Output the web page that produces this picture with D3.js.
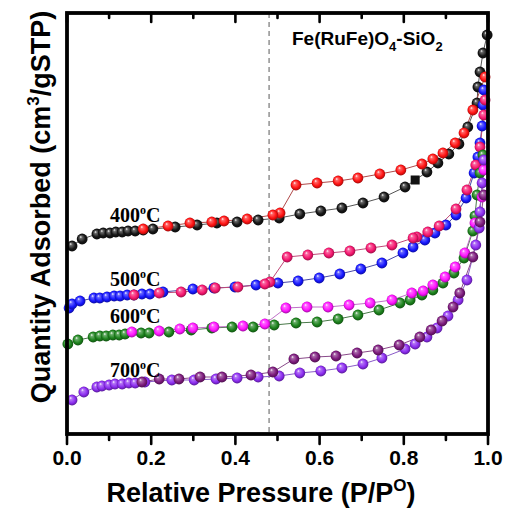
<!DOCTYPE html>
<html><head><meta charset="utf-8">
<script src="https://cdnjs.cloudflare.com/ajax/libs/d3/7.8.5/d3.min.js"></script>
<style>html,body{margin:0;padding:0;background:#fff;}svg{display:block;}</style>
</head><body>
<svg id="chart" width="506" height="508"></svg>
<script>
// ---- data (x = P/P0, y = quantity adsorbed, arbitrary units) ----
const xTicks = [0,0.1,0.2,0.3,0.4,0.5,0.6,0.7,0.8,0.9,1.0];
const xTickLabels = ["0.0","0.2","0.4","0.6","0.8","1.0"];
const dashedP = 0.48;

const ads400 = [[0.012,188],[0.036,195],[0.071,200],[0.086,201],[0.102,201],[0.116,202],[0.131,202],[0.145,203],[0.162,203],[0.181,204],[0.204,205],[0.257,207],[0.309,209],[0.356,211],[0.404,212],[0.454,214],[0.504,216],[0.553,220],[0.603,223],[0.653,226],[0.703,231],[0.753,237],[0.803,247],[0.827,254],[0.855,262],[0.881,271],[0.907,280],[0.931,290],[0.952,307],[0.974,331],[0.976,347],[0.981,362],[0.988,381],[0.998,399]];
const des400 = [[0.993,357],[0.964,324],[0.943,301],[0.922,291],[0.893,281],[0.869,275],[0.843,270],[0.793,264],[0.743,260],[0.691,256],[0.644,253],[0.594,251],[0.544,249],[0.506,221],[0.489,219],[0.428,215],[0.373,213],[0.344,212],[0.292,211],[0.240,208],[0.181,205]];
const ads500 = [[0.005,126],[0.012,130],[0.031,133],[0.064,136],[0.078,136],[0.095,137],[0.112,138],[0.126,138],[0.143,139],[0.159,139],[0.178,140],[0.197,140],[0.228,142],[0.299,145],[0.349,146],[0.399,147],[0.449,149],[0.501,151],[0.549,153],[0.599,156],[0.648,160],[0.698,165],[0.748,171],[0.798,181],[0.822,187],[0.850,194],[0.874,201],[0.900,209],[0.924,219],[0.948,236],[0.967,261],[0.976,277],[0.981,291],[0.986,308],[0.988,329],[0.990,344]];
const des500 = [[0.993,334],[0.990,319],[0.981,287],[0.971,269],[0.950,244],[0.924,225],[0.884,208],[0.857,202],[0.831,197],[0.822,196],[0.772,189],[0.722,186],[0.672,183],[0.622,181],[0.572,179],[0.523,177],[0.482,152],[0.470,150],[0.406,147],[0.352,146],[0.321,144],[0.271,142],[0.219,141],[0.159,139]];
const ads600 = [[0.002,90],[0.026,94],[0.062,97],[0.078,98],[0.093,98],[0.109,99],[0.124,99],[0.138,100],[0.176,101],[0.195,101],[0.242,102],[0.295,104],[0.344,106],[0.392,107],[0.442,107],[0.492,109],[0.544,111],[0.594,112],[0.644,115],[0.691,119],[0.741,124],[0.791,131],[0.815,134],[0.843,139],[0.869,144],[0.893,151],[0.919,161],[0.943,176],[0.964,203],[0.969,218],[0.974,239],[0.981,261],[0.988,279]];
const des600 = [[0.990,264],[0.986,237],[0.969,211],[0.945,181],[0.922,167],[0.898,157],[0.869,149],[0.846,143],[0.819,141],[0.772,134],[0.720,131],[0.670,129],[0.620,127],[0.570,127],[0.520,126],[0.470,110],[0.418,108],[0.349,107],[0.299,106],[0.268,105],[0.219,103],[0.154,102]];
const ads700 = [[0.012,34],[0.040,42],[0.071,47],[0.083,48],[0.100,49],[0.114,50],[0.131,50],[0.147,51],[0.162,51],[0.185,52],[0.249,54],[0.302,54],[0.354,55],[0.404,56],[0.454,57],[0.504,58],[0.553,61],[0.603,63],[0.653,66],[0.703,70],[0.748,76],[0.803,85],[0.827,90],[0.855,97],[0.879,106],[0.905,118],[0.929,134],[0.950,154],[0.971,189],[0.979,206],[0.981,222],[0.986,251],[0.990,274]];
const des700 = [[0.990,239],[0.981,212],[0.964,177],[0.933,141],[0.917,127],[0.891,113],[0.865,104],[0.838,97],[0.789,89],[0.739,84],[0.689,81],[0.639,78],[0.589,77],[0.539,75],[0.489,62],[0.437,59],[0.368,57],[0.316,57],[0.266,55],[0.219,55],[0.178,52]];

const seriesNames = ["ads400","des400","ads500","des500","ads600","des600","ads700","des700"];
const seriesData = [ads400,des400,ads500,des500,ads600,des600,ads700,des700];
const tempLabels = ["400","500","600","700"];
const tempLabelY = [212,148,111,57]; // label baseline in data units (y)

// ---- styles ----
const ballColors = ["#151515","#ff1212","#1616ff","#f5166f","#1c821c","#ff14ff","#8c2cf0","#7c1a7c"];
const lineColors = ["#555555","#b04848","#4848a8","#c04878","#4a7a4a","#c070c8","#8a5ac8","#8a4a8a"];

const svg = d3.select("#chart");
const x = d3.scaleLinear().domain([0,1]).range([67,488]);
const y = d3.scaleLinear().domain([0,421]).range([434,13]);

// gradients
const defs = svg.append("defs");
function shade(c, k){ return k>0 ? d3.interpolateRgb(c,"#ffffff")(k) : d3.interpolateRgb(c,"#000000")(-k); }
ballColors.forEach((c,i)=>{
  const g = defs.append("radialGradient").attr("id","g"+i)
    .attr("cx","50%").attr("cy","50%").attr("r","55%").attr("fx","35%").attr("fy","30%");
  g.append("stop").attr("offset","0%").attr("stop-color","#ffffff");
  g.append("stop").attr("offset","22%").attr("stop-color",shade(c,0.35));
  g.append("stop").attr("offset","65%").attr("stop-color",c);
  g.append("stop").attr("offset","100%").attr("stop-color",shade(c,-0.45));
});

// dashed line
svg.append("line").attr("x1",x(dashedP)).attr("x2",x(dashedP)).attr("y1",y(421)).attr("y2",y(0))
  .attr("stroke","#808080").attr("stroke-width",1.3).attr("stroke-dasharray","5,4");

// series lines + balls
const lineGen = d3.line().x(d=>x(d[0])).y(d=>y(d[1]));
seriesData.forEach((data,i)=>{
  svg.append("path").attr("d",lineGen(data)).attr("fill","none")
    .attr("stroke",lineColors[i]).attr("stroke-width",1);
});
const squareIdx = 23; // the one square-shaped point in ads400
seriesData.forEach((data,i)=>{
  const g = svg.append("g").attr("class",seriesNames[i]);
  data.forEach((d,j)=>{
    if(i===0 && j===squareIdx){
      g.append("rect").attr("x",x(d[0])-4.5).attr("y",y(d[1])-4.5).attr("width",9).attr("height",9).attr("fill","#111");
    } else {
      g.append("circle").attr("cx",x(d[0])).attr("cy",y(d[1])).attr("r",5.4).attr("fill","url(#g"+i+")");
    }
  });
});

// frame
svg.append("rect").attr("x",67).attr("y",13).attr("width",421).attr("height",421)
  .attr("fill","none").attr("stroke","#000").attr("stroke-width",3.8);

// ticks
xTicks.forEach((t,i)=>{
  const major = i%2===0;
  const len = major?9:5;
  svg.append("line").attr("x1",x(t)).attr("x2",x(t)).attr("y1",434).attr("y2",434+len+1)
    .attr("stroke","#000").attr("stroke-width",2.6).attr("stroke-linecap","round");
  svg.append("line").attr("x1",x(t)).attr("x2",x(t)).attr("y1",13).attr("y2",13+len)
    .attr("stroke","#000").attr("stroke-width",2.6).attr("stroke-linecap","round");
});
xTickLabels.forEach((lab,i)=>{
  svg.append("text").attr("x",x(i*0.2)).attr("y",465).attr("text-anchor","middle")
    .attr("font-family","Liberation Sans, Arial, sans-serif").attr("font-weight","bold").attr("font-size",21)
    .text(lab);
});

// axis titles
const xt = svg.append("text").attr("x",261).attr("y",502).attr("text-anchor","middle")
  .attr("font-family","Liberation Sans, Arial, sans-serif").attr("font-weight","bold").attr("font-size",27);
xt.append("tspan").text("Relative Pressure (P/P");
xt.append("tspan").attr("dy",-11).attr("font-size",17).text("O");
xt.append("tspan").attr("dy",11).text(")");

const yt = svg.append("text").attr("transform","translate(50,207) rotate(-90)").attr("text-anchor","middle")
  .attr("font-family","Liberation Sans, Arial, sans-serif").attr("font-weight","bold").attr("font-size",27);
yt.append("tspan").text("Quantity Adsorbed (cm");
yt.append("tspan").attr("dy",-11).attr("font-size",17).text("3");
yt.append("tspan").attr("dy",11).text("/gSTP)");

// chart title
const tt = svg.append("text").attr("x",292).attr("y",45)
  .attr("font-family","Liberation Sans, Arial, sans-serif").attr("font-weight","bold").attr("font-size",19);
tt.append("tspan").text("Fe(RuFe)O");
tt.append("tspan").attr("dy",6).attr("font-size",13).text("4");
tt.append("tspan").attr("dy",-6).text("-SiO");
tt.append("tspan").attr("dy",6).attr("font-size",13).text("2");

// temperature labels
tempLabels.forEach((t,i)=>{
  const tx = svg.append("text").attr("x",110).attr("y",y(tempLabelY[i]))
    .attr("font-family","Liberation Serif, Times New Roman, serif").attr("font-weight","bold").attr("font-size",20);
  tx.append("tspan").text(t);
  tx.append("tspan").attr("dy",-8).attr("font-size",12).text("o");
  tx.append("tspan").attr("dy",8).text("C");
});
</script>
</body></html>
